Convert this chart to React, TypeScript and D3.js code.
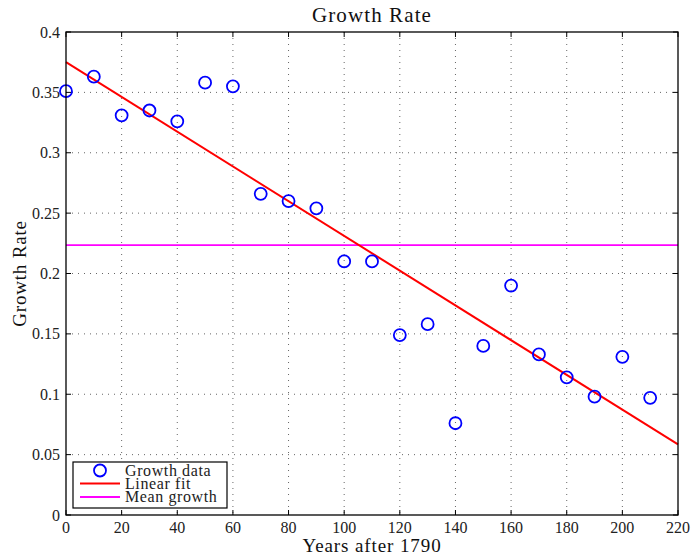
import React from "react";
import * as d3 from "d3";

const years = [0, 10, 20, 30, 40, 50, 60, 70, 80, 90, 100, 110, 120, 130, 140, 150, 160, 170, 180, 190, 200, 210];
const growth = [0.351, 0.363, 0.331, 0.335, 0.326, 0.358, 0.355, 0.266, 0.260, 0.254, 0.210, 0.210, 0.149, 0.158, 0.076, 0.140, 0.190, 0.133, 0.114, 0.098, 0.131, 0.097];
const fitYears = [0, 220];
const fitValues = [0.375, 0.0585];
const meanValue = 0.2235;
const xTicks = [0, 20, 40, 60, 80, 100, 120, 140, 160, 180, 200, 220];
const yTicks = [0, 0.05, 0.1, 0.15, 0.2, 0.25, 0.3, 0.35, 0.4];
const yTickLabels = ["0", "0.05", "0.1", "0.15", "0.2", "0.25", "0.3", "0.35", "0.4"];
const legendLabels = ["Growth data", "Linear fit", "Mean growth"];

const W = 691, H = 556;
const L = 66, R = 678, T = 32, B = 515;
const FONT = "Liberation Serif";

export default function App() {
  const x = d3.scaleLinear().domain([0, 220]).range([L, R]);
  const y = d3.scaleLinear().domain([0, 0.4]).range([B, T]);
  const line = d3.line<[number, number]>().x(d => x(d[0])).y(d => y(d[1]));
  const fitPts: [number, number][] = fitYears.map((v, i) => [v, fitValues[i]]);
  const meanPts: [number, number][] = [[0, meanValue], [220, meanValue]];
  const tickLen = 5;
  const gridStyle = { stroke: "#555", strokeWidth: 0.9, strokeDasharray: "1,5" };

  return (
    <svg width={W} height={H} style={{ position: "absolute", left: 0, top: 0, background: "#fff" }}>
      <rect x={0} y={0} width={W} height={H} fill="#fff" />
      {xTicks.slice(1, -1).map(t => (
        <line key={"gx" + t} x1={x(t)} x2={x(t)} y1={T} y2={B} {...gridStyle} />
      ))}
      {yTicks.slice(1, -1).map(t => (
        <line key={"gy" + t} x1={L} x2={R} y1={y(t)} y2={y(t)} {...gridStyle} />
      ))}
      <path d={line(meanPts) || ""} fill="none" stroke="#ff00ff" strokeWidth={1.8} />
      <path d={line(fitPts) || ""} fill="none" stroke="#ff0000" strokeWidth={2} />
      {years.map((yr, i) => (
        <circle key={"c" + i} cx={x(yr)} cy={y(growth[i])} r={6} fill="none" stroke="#0000ff" strokeWidth={1.8} />
      ))}
      <rect x={L} y={T} width={R - L} height={B - T} fill="none" stroke="#000" strokeWidth={1.3} />
      {xTicks.map(t => (
        <g key={"tx" + t}>
          <line x1={x(t)} x2={x(t)} y1={B} y2={B - tickLen} stroke="#000" strokeWidth={1} />
          <line x1={x(t)} x2={x(t)} y1={T} y2={T + tickLen} stroke="#000" strokeWidth={1} />
          <text x={x(t)} y={533} textAnchor="middle" fontFamily={FONT} fontSize={16} fill="#222">{t}</text>
        </g>
      ))}
      {yTicks.map((t, i) => (
        <g key={"ty" + t}>
          <line x1={L} x2={L + tickLen} y1={y(t)} y2={y(t)} stroke="#000" strokeWidth={1} />
          <line x1={R} x2={R - tickLen} y1={y(t)} y2={y(t)} stroke="#000" strokeWidth={1} />
          <text x={60} y={y(t)} dy="0.35em" textAnchor="end" fontFamily={FONT} fontSize={16} fill="#222">{yTickLabels[i]}</text>
        </g>
      ))}
      <text x={(L + R) / 2} y={22} textAnchor="middle" fontFamily={FONT} fontSize={21} letterSpacing={1.1} fill="#111">Growth Rate</text>
      <text x={(L + R) / 2} y={552} textAnchor="middle" fontFamily={FONT} fontSize={19} letterSpacing={0.9} fill="#111">Years after 1790</text>
      <text transform={`translate(26, ${(T + B) / 2}) rotate(-90)`} textAnchor="middle" fontFamily={FONT} fontSize={19} letterSpacing={0.8} fill="#111">Growth Rate</text>
      <g>
        <rect x={73} y={462} width={154} height={46} fill="#fff" stroke="#000" strokeWidth={1.2} />
        <circle cx={100} cy={470.5} r={6} fill="none" stroke="#0000ff" strokeWidth={1.8} />
        <line x1={80} x2={120} y1={483.5} y2={483.5} stroke="#ff0000" strokeWidth={2} />
        <line x1={80} x2={120} y1={497} y2={497} stroke="#ff00ff" strokeWidth={1.8} />
        {legendLabels.map((lab, i) => (
          <text key={lab} x={125} y={475.5 + i * 13.3} fontFamily={FONT} fontSize={16} letterSpacing={0.6} fill="#222">{lab}</text>
        ))}
      </g>
    </svg>
  );
}
